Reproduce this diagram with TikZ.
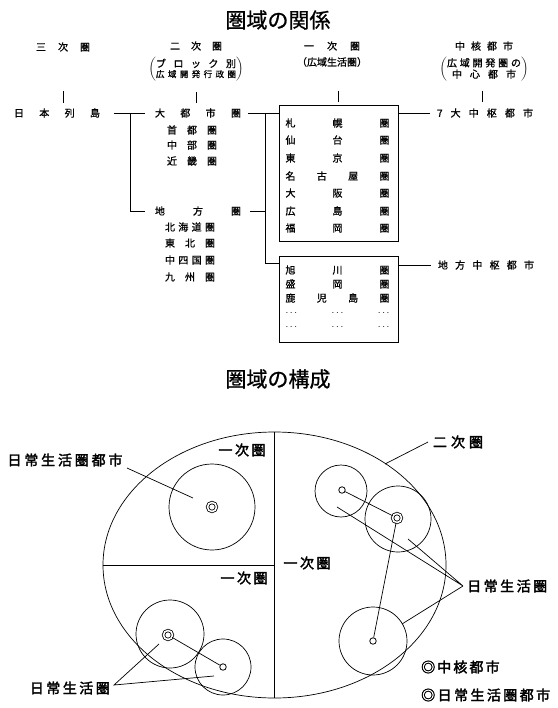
\documentclass[tikz,border=0pt]{standalone}
\usepackage{fontspec}
\setmainfont{Noto Sans CJK JP}
\newfontfamily\jpbold{Noto Sans CJK JP}[FakeBold=2.5]
\newfontfamily\jpmid{Noto Sans CJK JP}[FakeBold=1]
\usetikzlibrary{shapes.geometric}
\newcommand\spreadtxt[2]{\makebox[#1][s]{#2}}
\renewcommand{\arraystretch}{0.8}
\begin{document}
\begin{tikzpicture}[x=1pt,y=-1pt,
  txt/.style={inner sep=0, font=\fontsize{10}{12}\selectfont\jpmid},
  lbl/.style={inner sep=0, font=\fontsize{14}{16}\selectfont\jpbold},
  ttl/.style={inner sep=0, font=\fontsize{21}{24}\selectfont\jpmid},
  ln/.style={line width=0.8pt},
  thin/.style={line width=0.7pt},
  area/.style={circle, draw, line width=0.7pt, inner sep=0},
  core/.style={circle, draw, double, double distance=1.6pt, line width=0.8pt, minimum size=9pt, inner sep=0},
  dlc/.style={circle, draw, line width=0.8pt, minimum size=6.5pt, inner sep=0, fill=white},
  bx/.style={draw, line width=0.8pt, inner sep=0, minimum width=119pt}
]
\useasboundingbox (0,0) rectangle (557,708);

% ---------- top: relations ----------
\node[ttl] (t1) at (278,20) {圏域の関係};

\node[txt] (h3) at (63,47) {\spreadtxt{54pt}{三 次 圏}};
\node[txt] (h2) at (196,46) {\spreadtxt{52pt}{二 次 圏}};
\node[txt] (h2p) at (196,69.5) {$\left(\begin{tabular}{@{}c@{}}\spreadtxt{80pt}{ブ ロ ッ ク 別}\\ \fontsize{8.5}{10}\selectfont\spreadtxt{80pt}{広 域 開 発 行 政 圏}\end{tabular}\right)$};
\node[txt] (h1) at (332,46) {\spreadtxt{56pt}{一 次 圏}};
\node[txt] (h1p) at (332,62) {（広域生活圏）};
\node[txt] (hc) at (484,46) {\spreadtxt{58pt}{中 核 都 市}};
\node[txt] (hcp) at (484,69.5) {$\left(\begin{tabular}{@{}c@{}}\spreadtxt{74pt}{広 域 開 発 圏 の}\\ \spreadtxt{64pt}{中 心 都 市}\end{tabular}\right)$};

\coordinate (k3a) at (63,91);  \coordinate (k3b) at (63,103);
\coordinate (k2a) at (196,92); \coordinate (k2b) at (196,103);
\coordinate (k1a) at (338,91); \coordinate (k1b) at (338,102);
\coordinate (kca) at (482,91); \coordinate (kcb) at (482,102);
\draw[ln] (k3a) -- (k3b);
\draw[ln] (k2a) -- (k2b);
\draw[ln] (k1a) -- (k1b);
\draw[ln] (kca) -- (kcb);

\node[txt] (nihon) at (57,113) {\spreadtxt{86pt}{日 本 列 島}};
\node[txt] (dai) at (198,113) {\spreadtxt{86pt}{大 都 市 圏}};
\node[txt] (shuto) at (192,130) {\spreadtxt{50pt}{首 都 圏}};
\node[txt] (chubu) at (192,145) {\spreadtxt{50pt}{中 部 圏}};
\node[txt] (kinki) at (192,161) {\spreadtxt{50pt}{近 畿 圏}};
\node[txt] (chiho) at (198,211) {\spreadtxt{86pt}{地 方 圏}};
\node[txt] (hok) at (190,227) {\spreadtxt{50pt}{北 海 道 圏}};
\node[txt] (toh) at (190,243) {\spreadtxt{50pt}{東 北 圏}};
\node[txt] (chu) at (190,260) {\spreadtxt{50pt}{中 四 国 圏}};
\node[txt] (kyu) at (190,277) {\spreadtxt{50pt}{九 州 圏}};

\node[bx, minimum height=136pt] (box1) at (338.5,173) {};
\node[bx, minimum height=86pt] (box2) at (338.5,299) {};

\node[txt] (b1) at (337.5,123) {\spreadtxt{104pt}{札 幌 圏}};
\node[txt] (b2) at (337.5,140) {\spreadtxt{104pt}{仙 台 圏}};
\node[txt] (b3) at (337.5,158) {\spreadtxt{104pt}{東 京 圏}};
\node[txt] (b4) at (337.5,176) {\spreadtxt{104pt}{名 古 屋 圏}};
\node[txt] (b5) at (337.5,193) {\spreadtxt{104pt}{大 阪 圏}};
\node[txt] (b6) at (337.5,211) {\spreadtxt{104pt}{広 島 圏}};
\node[txt] (b7) at (337.5,228) {\spreadtxt{104pt}{福 岡 圏}};

\node[txt] (c1) at (337.5,270) {\spreadtxt{104pt}{旭 川 圏}};
\node[txt] (c2) at (337.5,284) {\spreadtxt{104pt}{盛 岡 圏}};
\node[txt] (c3) at (337.5,298) {\spreadtxt{104pt}{鹿 児 島 圏}};
\node[txt] (c4) at (337.5,313) {\spreadtxt{104pt}{$\cdots$ $\cdots$ $\cdots$}};
\node[txt] (c5) at (337.5,327) {\spreadtxt{104pt}{$\cdots$ $\cdots$ $\cdots$}};

\node[txt] (seven) at (485,113) {\spreadtxt{96pt}{7 大 中 枢 都 市}};
\node[txt] (chisu) at (486,265) {\spreadtxt{96pt}{地 方 中 枢 都 市}};

\coordinate (jA) at (130,113);
\coordinate (jB) at (265,113);
\coordinate (jC) at (265,263);
\draw[ln, shorten <=14pt, shorten >=10pt] (nihon) -- (dai);
\draw[ln] (jA) |- ([xshift=-10pt]chiho.west);
\draw[ln] ([xshift=7pt]dai.east) -- (box1.west |- dai);
\draw[ln] (jB) -- (jC) -- (box2.west |- jC);
\draw[ln] ([xshift=9pt]chiho.east) -- (chiho -| jB);
\draw[ln] (box1.east |- seven) -- ([xshift=-7pt]seven.west);
\draw[ln] (box2.east |- chisu) -- ([xshift=-7pt]chisu.west);

% ---------- bottom: structure ----------
\node[ttl] (t2) at (278,379) {圏域の構成};

\node[draw, ellipse, line width=0.7pt, minimum width=343pt, minimum height=266pt, inner sep=0] (ell) at (274.5,565) {};
\draw[thin] (ell.north) -- (ell.south);
\draw[thin] (ell.west) -- (ell.center);

\node[lbl] (lab1a) at (242,450) {\spreadtxt{47pt}{一 次 圏}};
\node[lbl] (lab1b) at (307,563) {\spreadtxt{47pt}{一 次 圏}};
\node[lbl] (lab1c) at (244,578) {\spreadtxt{47pt}{一 次 圏}};
\node[lbl] (lab2) at (458,442) {\spreadtxt{50pt}{二 次 圏}};
\coordinate (e2a) at (428,442);
\coordinate (e2b) at (385,464);
\draw[thin] (e2a) -- (e2b);

% upper-left
\node[area, minimum size=86pt] (cF) at (212,507) {};
\node[core] (kF) at (212,507) {};
\node[lbl] (labTL) at (65,460) {\spreadtxt{115pt}{日 常 生 活 圏 都 市}};
\coordinate (lF1) at (127,468);
\coordinate (lF2) at (193,498);
\draw[thin] (lF1) -- (lF2);

% upper-right
\node[area, minimum size=52pt] (cA) at (341,491) {};
\node[area, minimum size=66pt] (cB) at (398,519) {};
\node[area, minimum size=68pt] (cC) at (373,641) {};
\node[dlc] (kA) at (342,490) {};
\node[core] (kB) at (397,518) {};
\node[dlc] (kC) at (373,641) {};
\draw[thin] (kA) -- (kB);
\draw[thin] (kB) -- (kC);
\coordinate (P) at (463,586);
\coordinate (pA) at (337,507);
\coordinate (pB) at (408,539);
\coordinate (pC) at (402,624);
\draw[thin] (pA) -- (P) -- (pB);
\draw[thin] (P) -- (pC);
\node[lbl, anchor=west] (labR) at (467,586) {\spreadtxt{80pt}{日 常 生 活 圏}};

% lower-left
\node[area, minimum size=68pt] (cD) at (170,634) {};
\node[area, minimum size=56pt] (cE) at (223,667) {};
\node[core] (kD) at (168,635) {};
\node[dlc] (kE) at (223,667) {};
\draw[thin] (kD) -- (kE);
\coordinate (Q) at (114,685);
\coordinate (qD) at (159,644);
\coordinate (qE) at (214,676);
\draw[thin] (qD) -- (Q) -- (qE);
\node[lbl, anchor=east] (labL) at (110,688) {\spreadtxt{80pt}{日 常 生 活 圏}};

% legend
\node[lbl, anchor=west] (leg1) at (421,667) {\spreadtxt{72pt}{◎ 中 核 都 市}};
\node[lbl, anchor=west] (leg2) at (421,695) {\spreadtxt{129pt}{◎ 日 常 生 活 圏 都 市}};
\end{tikzpicture}
\end{document}
